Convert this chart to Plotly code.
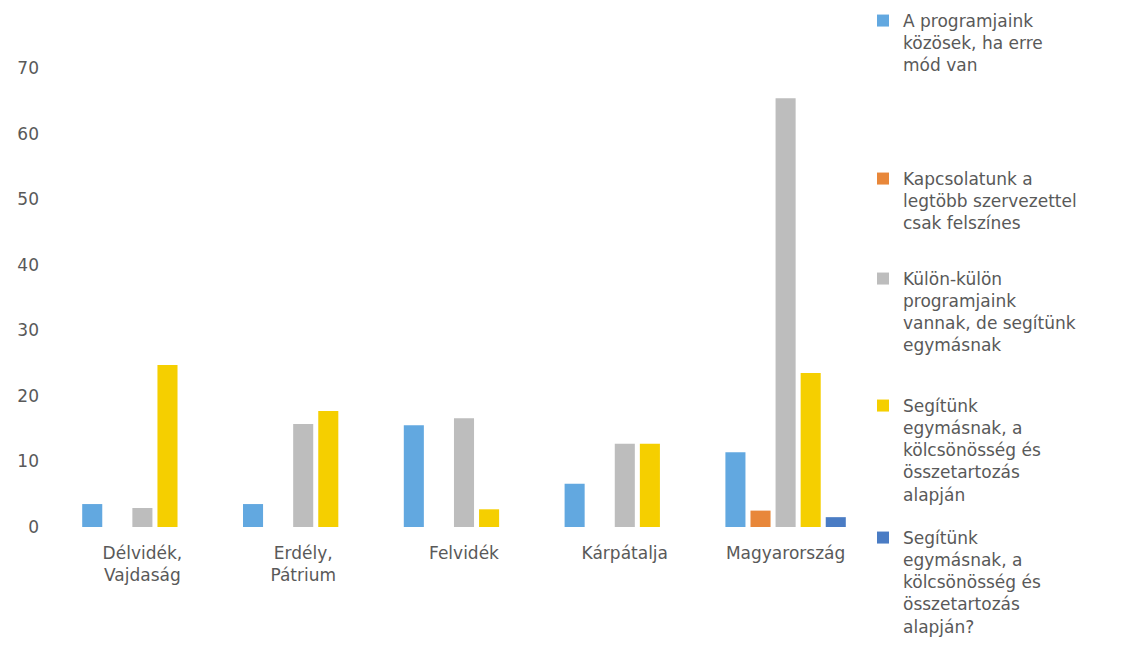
import plotly.graph_objects as go

regions = ["Délvidék,<br>Vajdaság", "Erdély,<br>Pátrium", "Felvidék", "Kárpátalja", "Magyarország"]

kozos = [3.5, 3.5, 15.5, 6.6, 11.4]
felszines = [None, None, None, None, 2.5]
kulon = [2.9, 15.7, 16.6, 12.7, 65.4]
segitunk = [24.7, 17.7, 2.7, 12.7, 23.5]
segitunk_q = [None, None, None, None, 1.5]

names = [
    "A programjaink<br>közösek, ha erre<br>mód van",
    "Kapcsolatunk a<br>legtöbb szervezettel<br>csak felszínes",
    "Külön-külön<br>programjaink<br>vannak, de segítünk<br>egymásnak",
    "Segítünk<br>egymásnak, a<br>kölcsönösség és<br>összetartozás<br>alapján",
    "Segítünk<br>egymásnak, a<br>kölcsönösség és<br>összetartozás<br>alapján?",
]
series = [kozos, felszines, kulon, segitunk, segitunk_q]
colors = ["#62A8E0", "#E8873A", "#BDBDBD", "#F5CF00", "#4A7CC4"]
legend_ids = ["legend", "legend2", "legend3", "legend4", "legend5"]
# top of each legend block, in figure pixels (page has an 8px body margin)
legend_tops = [-5, 153, 253, 380, 512]

W, H = 1125, 645
ml, mr, mt, mb = 54, 267, 60, 126
plot_h = H - mt - mb
plot_w = W - ml - mr

fig = go.Figure()
for name, vals, col, lg in zip(names, series, colors, legend_ids):
    fig.add_trace(go.Bar(x=regions, y=vals, name=name, marker_color=col,
                         marker_line_width=0, legend=lg))

txt = "#595959"
font = dict(family="DejaVu Sans", size=17, color=txt)

layout_legends = {}
for lg, top in zip(legend_ids, legend_tops):
    layout_legends[lg] = dict(
        x=(855 - ml) / plot_w, xanchor="left",
        y=(H - mb - top) / plot_h, yanchor="top",
        bgcolor="rgba(0,0,0,0)", font=font, valign="top",
        itemwidth=30, tracegroupgap=0,
    )

fig.update_layout(
    width=W, height=H,
    margin=dict(l=ml, r=mr, t=mt, b=mb, autoexpand=False),
    plot_bgcolor="white", paper_bgcolor="white",
    font=font,
    barmode="group", bargap=0.22, bargroupgap=0.2,
    showlegend=True,
    **layout_legends,
)
fig.update_yaxes(range=[0, 70], dtick=10, showgrid=False, zeroline=False,
                 showline=False, ticks="", ticklabelstandoff=22,
                 tickfont=font)
fig.update_xaxes(showgrid=False, showline=False, ticks="", ticklabelstandoff=14,
                 tickfont=font)

fig.write_html("out.html")
